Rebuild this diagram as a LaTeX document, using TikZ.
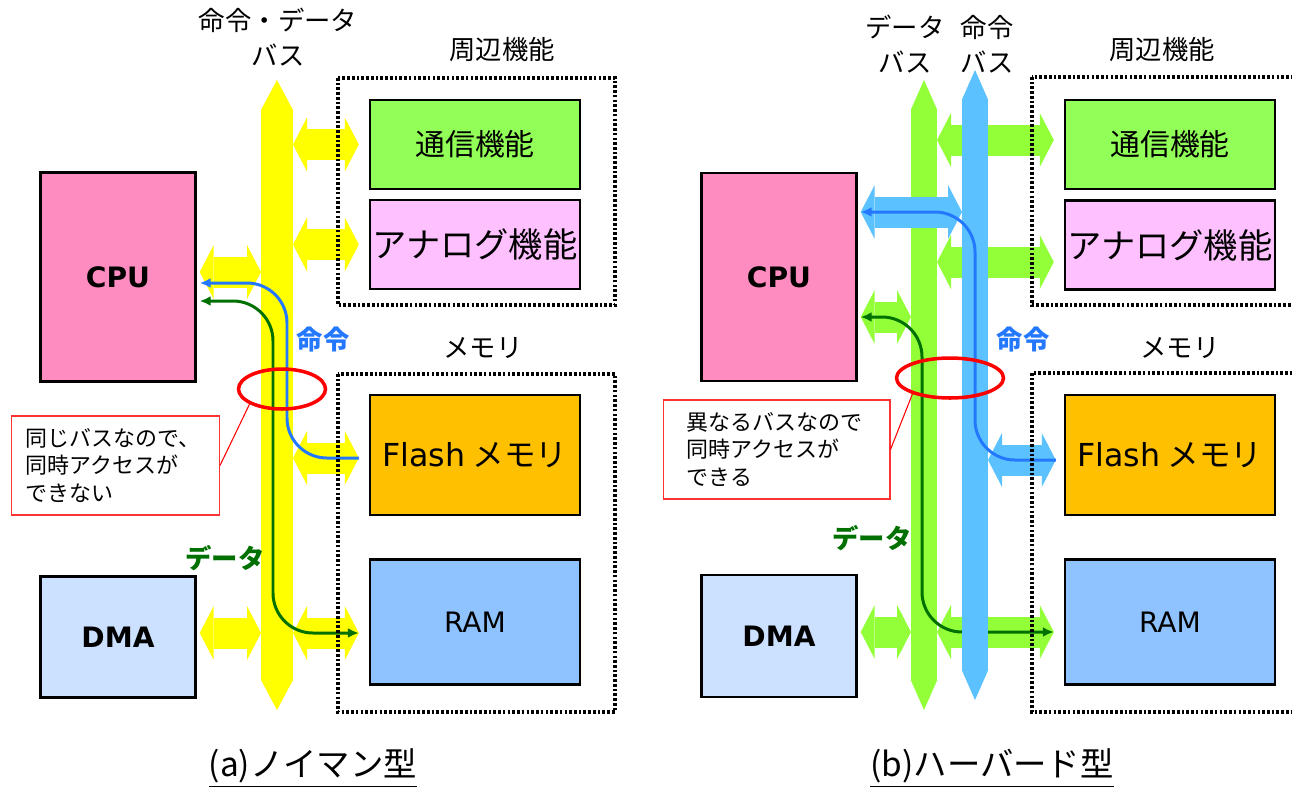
\documentclass[tikz,border=0pt]{standalone}
\usepackage{fontspec}
\setmainfont{Noto Sans CJK JP}
\newfontfamily\latinfont{DejaVu Sans}
\usepackage{tikz}
\usetikzlibrary{arrows.meta, shapes.geometric}
\definecolor{busyellow}{RGB}{255,255,0}
\definecolor{busgreen}{RGB}{146,255,56}
\definecolor{busblue}{RGB}{92,194,255}
\definecolor{cpupink}{RGB}{255,140,192}
\definecolor{dmablue}{RGB}{204,224,255}
\definecolor{commgreen}{RGB}{146,255,88}
\definecolor{analogpink}{RGB}{255,192,255}
\definecolor{flashorange}{RGB}{255,192,0}
\definecolor{ramblue}{RGB}{142,195,255}
\definecolor{cmdblue}{RGB}{36,120,255}
\definecolor{datagreen}{RGB}{0,112,0}

\begin{document}
\begin{tikzpicture}[
    x=0.02cm, y=-0.02cm,
    box/.style={draw=black, line width=1.4pt, inner sep=0pt},
    unit/.style={box, minimum width=4.2cm, minimum height=1.78cm,
      font=\fontsize{17}{20}\selectfont},
    master/.style={box, minimum width=3.1cm,
      font=\latinfont\bfseries\fontsize{16}{19}\selectfont},
    area/.style={draw=black, line width=2pt, dash pattern=on 1.5pt off 1.2pt},
    caption/.style={font=\fontsize{15}{20}\selectfont, align=center},
    flow/.style={font=\bfseries\fontsize{15}{18}\selectfont},
    bus/.style={line width=#1,
      {Triangle[width=#1, length=0.6cm, line width=0pt]}-{Triangle[width=#1, length=0.6cm, line width=0pt]}},
    link/.style={line width=0.62cm,
      {Triangle[width=1.08cm, length=0.28cm, line width=0pt]}-{Triangle[width=1.08cm, length=0.28cm, line width=0pt]}},
    cmd/.style={draw=cmdblue, line width=1.7pt, rounded corners=0.8cm,
      -{Latex[length=0.22cm, width=0.2cm]}},
    dat/.style={draw=datagreen, line width=1.7pt, rounded corners=0.8cm,
      {Latex[length=0.22cm, width=0.2cm]}-{Latex[length=0.22cm, width=0.2cm]}},
    clash/.style={ellipse, draw=red, line width=2pt, inner sep=0pt},
    note/.style={draw=red!80, line width=0.6pt, fill=white, align=left,
      text width=3.6cm, inner xsep=0.28cm, font=\fontsize{12.5}{15.5}\selectfont},
    title/.style={font=\fontsize{19}{22}\selectfont},
  ]
  \useasboundingbox (0,0) rectangle (1292,789);

  % (a) von Neumann
  \node[master, minimum height=4.18cm, fill=cpupink] (cpuA) at (118,277) {CPU};
  \node[master, minimum height=2.42cm, fill=dmablue] (dmaA) at (118,637) {DMA};
  \node[unit, fill=commgreen] (tsuA) at (475,144.5) {通信機能};
  \node[unit, fill=analogpink, font=\fontsize{19.5}{22}\selectfont] (anaA) at (475,244.5) {アナログ機能};
  \node[unit, minimum height=2.4cm, fill=flashorange, font=\fontsize{18}{21}\selectfont] (flashA) at (475,455) {{\latinfont Flash} メモリ};
  \node[unit, minimum height=2.5cm, fill=ramblue, font=\latinfont\fontsize{16}{19}\selectfont] (ramA) at (475,622) {RAM};

  \coordinate (aL) at (261,0);
  \coordinate (aR) at (293,0);
  \draw[bus=0.64cm, busyellow] (277,80) -- (277,710);
  \draw[link, busyellow, shorten >=0.2cm] (aR |- tsuA) -- (tsuA.west);
  \draw[link, busyellow, shorten >=0.2cm] (aR |- anaA) -- (anaA.west);
  \draw[link, busyellow, shorten >=0.2cm] (aR |- 0,458) -- (flashA.west |- 0,458);
  \draw[link, busyellow, shorten >=0.2cm] (aR |- 0,633) -- (ramA.west |- 0,633);
  \draw[link, busyellow, shorten <=0.06cm] (cpuA.east |- 0,272) -- (aL |- 0,272);
  \draw[link, busyellow, shorten <=0.06cm] (dmaA.east |- 0,633) -- (aL |- 0,633);

  \draw[cmd, shorten <=0.2cm, shorten >=0.06cm] (flashA.west |- 0,458) -| (287,283) -- (cpuA.east |- 0,283);
  \draw[dat, shorten <=0.06cm, shorten >=0.2cm] (cpuA.east |- 0,301) -| (273,633) -- (ramA.west |- 0,633);

  \draw[area] (338,78) rectangle (615,305);
  \draw[area] (338,374) rectangle (615,712);
  \node[caption] (busAname) at (278,37) {命令・データ\\バス};
  \node[caption] (periA) at (502,50) {周辺機能};
  \node[caption] (memA) at (483,348) {メモリ};
  \node[flow, text=cmdblue] (cmdA) at (323,340) {命令};
  \node[flow, text=datagreen] (datA) at (225,558) {データ};

  \node[clash, minimum width=1.74cm, minimum height=0.8cm] (clashA) at (282,389) {};
  \node[note, minimum width=4.1cm, minimum height=1.98cm] (noteA) at (115.5,465.5) {同じバスなので、\\同時アクセスが\\できない};
  \draw[red, line width=0.6pt] (noteA.east) -- (clashA.205);

  \node[title] (titleA) at (313,768) {\underline{(a)ノイマン型}};

  % (b) Harvard
  \node[master, minimum height=4.16cm, fill=cpupink] (cpuB) at (779,277) {CPU};
  \node[master, minimum height=2.44cm, fill=dmablue] (dmaB) at (779,636) {DMA};
  \node[unit, fill=commgreen] (tsuB) at (1170,144.5) {通信機能};
  \node[unit, fill=analogpink, font=\fontsize{19.5}{22}\selectfont] (anaB) at (1170,245) {アナログ機能};
  \node[unit, minimum height=2.4cm, fill=flashorange, font=\fontsize{18}{21}\selectfont] (flashB) at (1170,455) {{\latinfont Flash} メモリ};
  \node[unit, minimum height=2.5cm, fill=ramblue, font=\latinfont\fontsize{16}{19}\selectfont] (ramB) at (1170,622) {RAM};

  \coordinate (gL) at (911,0);
  \coordinate (gR) at (937,0);
  \coordinate (bL) at (962,0);
  \coordinate (bR) at (988,0);
  \draw[bus=0.53cm, busgreen] (924,80) -- (924,710);
  \draw[link, busgreen, shorten >=0.2cm] (gR |- 0,140) -- (tsuB.west |- 0,140);
  \draw[link, busgreen, shorten >=0.2cm] (gR |- 0,262) -- (anaB.west |- 0,262);
  \draw[link, busgreen, shorten >=0.2cm] (gR |- 0,632) -- (ramB.west |- 0,632);
  \draw[link, busgreen, shorten <=0.06cm] (cpuB.east |- 0,317) -- (gL |- 0,317);
  \draw[link, busgreen, shorten <=0.06cm] (dmaB.east |- 0,632) -- (gL |- 0,632);
  \draw[dat, shorten <=0.06cm, shorten >=0.2cm] (cpuB.east |- 0,317) -| (922,632) -- (ramB.west |- 0,632);

  \draw[bus=0.53cm, busblue] (975,70) -- (975,700);
  \draw[link, busblue, shorten <=0.06cm] (cpuB.east |- 0,212) -- (bL |- 0,212);
  \draw[link, busblue, shorten >=0.16cm] (bR |- 0,460) -- (flashB.west |- 0,460);
  \draw[cmd, shorten <=0.16cm, shorten >=0.06cm] (flashB.west |- 0,460) -| (975,212) -- (cpuB.east |- 0,212);

  \draw[area] (1032,77) rectangle (1300,305);
  \draw[area] (1032,373) rectangle (1300,712);
  \node[caption] (dbusB) at (905,44) {データ\\バス};
  \node[caption] (ibusB) at (987,44) {命令\\バス};
  \node[caption] (periB) at (1162,50) {周辺機能};
  \node[caption] (memB) at (1180,348) {メモリ};
  \node[flow, text=cmdblue] (cmdB) at (1023,340) {命令};
  \node[flow, text=datagreen] (datB) at (872,538) {データ};

  \node[clash, minimum width=2.14cm, minimum height=0.8cm] (clashB) at (950,378) {};
  \node[note, minimum width=4.54cm, minimum height=1.98cm] (noteB) at (776.5,449.5) {異なるバスなので\\同時アクセスが\\できる};
  \draw[red, line width=0.6pt] (noteB.east) -- (clashB.203);

  \node[title] (titleB) at (992,768) {\underline{(b)ハーバード型}};
\end{tikzpicture}
\end{document}
